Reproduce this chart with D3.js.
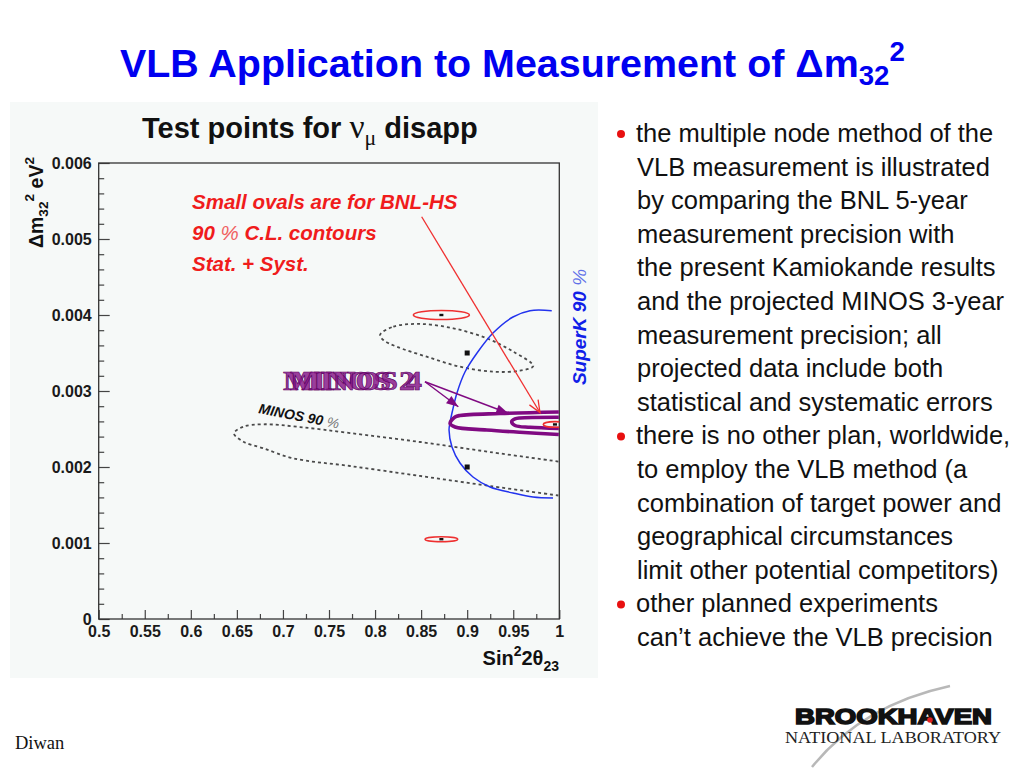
<!DOCTYPE html>
<html>
<head>
<meta charset="utf-8">
<script src="https://cdn.jsdelivr.net/npm/d3@7"></script>
<style>
body { margin: 0; background: #fff; }
svg { display: block; }
</style>
</head>
<body>
<div id="slide"></div>
<script>
// axis ticks
var xTickVals = [0.5, 0.55, 0.6, 0.65, 0.7, 0.75, 0.8, 0.85, 0.9, 0.95, 1];
var xTickLabels = ["0.5", "0.55", "0.6", "0.65", "0.7", "0.75", "0.8", "0.85", "0.9", "0.95", "1"];
var yTickVals = [0, 0.001, 0.002, 0.003, 0.004, 0.005, 0.006];
var yTickLabels = ["0", "0.001", "0.002", "0.003", "0.004", "0.005", "0.006"];

// test points (sin^2 2theta, dm^2)
var testPoints = [[0.9, 0.0035], [0.9, 0.002]];
var ovalCenters = [[0.872, 0.004], [0.872, 0.00105], [0.9953, 0.00256]];
var ovalHalfX = [0.0304, 0.0177, 0.0127];
var ovalHalfY = [0.00006, 0.000033, 0.000037];

// MINOS 90% contour round the (0.9, 0.0035) point
var minosSmall = [[0.8054, 0.003737], [0.8198, 0.003846], [0.8488, 0.003882], [0.8849, 0.003825],
  [0.9212, 0.003693], [0.9501, 0.003517], [0.9718, 0.003329], [0.9573, 0.003267], [0.9284, 0.003254],
  [0.8922, 0.00332], [0.8561, 0.003451], [0.8235, 0.003583], [0.8089, 0.003671]];
// MINOS 90% contour round the (0.9, 0.002) point, open at sin^2=1
var minosBig = [[0.999, 0.002072], [0.9248, 0.002197], [0.8488, 0.002329], [0.7728, 0.002447],
  [0.7185, 0.002526], [0.6787, 0.002562], [0.657, 0.00253], [0.6469, 0.002443], [0.657, 0.002333],
  [0.6787, 0.002246], [0.7112, 0.002114], [0.7728, 0.002013], [0.8488, 0.001882], [0.9248, 0.00175],
  [0.999, 0.001625]];
// SuperK 90%
var superK = [[0.9918, 0.004057], [0.9682, 0.004057], [0.9497, 0.003974], [0.928, 0.003763],
  [0.9107, 0.0035], [0.8976, 0.00325], [0.8889, 0.002974], [0.8835, 0.00271], [0.8813, 0.002579],
  [0.8803, 0.002487], [0.8835, 0.002263], [0.8922, 0.002053], [0.9063, 0.001868], [0.9248, 0.001737],
  [0.9497, 0.001658], [0.9714, 0.001605], [0.9932, 0.001592]];
// MINOS 2 and MINOS 4 contours
var minosOuter = [[0.9995, 0.002724], [0.9356, 0.002704], [0.8922, 0.002678], [0.8868, 0.002658],
  [0.8814, 0.002575], [0.8868, 0.002526], [0.9212, 0.002487], [0.9573, 0.002457], [0.9995, 0.002428]];
var minosInner = [[0.9995, 0.002654], [0.9573, 0.002645], [0.9519, 0.002632], [0.9483, 0.002596],
  [0.9519, 0.002546], [0.9682, 0.002522], [0.9995, 0.002507]];

// annotation arrows
var redArrow = [[0.8506, 0.005293], [0.979, 0.002717]];
var purpleFrom = [0.8542, 0.003122];
var purpleTo = [[0.8904, 0.002793], [0.9446, 0.002707]];

// slide text
var noteLines = ["the multiple node method of the", "VLB measurement is illustrated",
  "by comparing the BNL 5-year", "measurement precision with", "the present Kamiokande results",
  "and the projected MINOS 3-year", "measurement precision; all", "projected data include both",
  "statistical and systematic errors", "there is no other plan, worldwide,",
  "to employ the VLB method (a", "combination of target power and", "geographical circumstances",
  "limit other potential competitors)", "other planned experiments", "can\u2019t achieve the VLB precision"];
var bulletLines = [0, 9, 14];

var SANS = "'Liberation Sans', Arial, Helvetica, sans-serif";
var SERIF = "'Liberation Serif', 'Times New Roman', serif";

var svg = d3.select("#slide").append("svg")
  .attr("width", 1024)
  .attr("height", 768)
  .attr("font-family", SANS);

// scale a text's font size so it fills a given width
function fitWidth(t, w) {
  var cur = t.node().getComputedTextLength();
  var fs = parseFloat(t.attr("font-size"));
  t.attr("font-size", fs * w / cur);
}

// slide title
var title = svg.append("text")
  .attr("x", 120).attr("y", 77)
  .attr("font-size", 38).attr("font-weight", "bold")
  .attr("fill", "#0000f0");
title.append("tspan").text("VLB Application to Measurement of \u0394m");
title.append("tspan").attr("font-size", "70%").attr("dy", 8).text("32");
title.append("tspan").attr("font-size", "70%").attr("dy", -24).text("2");
fitWidth(title, 785);

// chart panel
svg.append("rect")
  .attr("x", 10).attr("y", 102)
  .attr("width", 588).attr("height", 576)
  .attr("fill", "#f6f9f8");

var x = d3.scaleLinear().domain([0.5, 1]).range([98.7, 559.3]);
var y = d3.scaleLinear().domain([0, 0.006]).range([619, 163]);

svg.append("clipPath").attr("id", "plotclip")
  .append("rect")
  .attr("x", x(0.5)).attr("y", y(0.006))
  .attr("width", x(1) - x(0.5)).attr("height", y(0) - y(0.006));

var xMinor = d3.range(0.525, 1, 0.05);
var yMinor = y.ticks(30).filter(d => Math.abs(d * 1000 - Math.round(d * 1000)) > 1e-6);

function styleAxis(g) {
  g.attr("font-family", SANS).attr("font-size", 16);
  g.select(".domain").remove();
  g.selectAll("line").attr("stroke", "#444").attr("stroke-width", 1.2);
  g.selectAll("text")
    .attr("font-weight", "bold")
    .attr("fill", "#1a1a1a");
}

svg.append("g").attr("transform", "translate(0,619)")
  .call(d3.axisBottom(x).tickValues(xTickVals).tickFormat((d, i) => xTickLabels[i]).tickSize(-9).tickPadding(7))
  .call(styleAxis);
svg.append("g").attr("transform", "translate(0,619)")
  .call(d3.axisBottom(x).tickValues(xMinor).tickFormat("").tickSize(-5))
  .call(styleAxis);
svg.append("g").attr("transform", "translate(98.7,0)")
  .call(d3.axisLeft(y).tickValues(yTickVals).tickFormat((d, i) => yTickLabels[i]).tickSize(-11).tickPadding(7))
  .call(styleAxis);
svg.append("g").attr("transform", "translate(98.7,0)")
  .call(d3.axisLeft(y).tickValues(yMinor).tickFormat("").tickSize(-5.5))
  .call(styleAxis);

svg.append("rect")
  .attr("x", x(0.5)).attr("y", y(0.006))
  .attr("width", x(1) - x(0.5)).attr("height", y(0) - y(0.006))
  .attr("fill", "none").attr("stroke", "#333").attr("stroke-width", 1.3);

// panel title
var ptitle = svg.append("text")
  .attr("x", 142).attr("y", 138)
  .attr("font-size", 26).attr("font-weight", "bold").attr("fill", "#111");
ptitle.append("tspan").text("Test points for ");
ptitle.append("tspan").attr("font-family", SERIF).attr("font-weight", "normal").attr("font-size", "115%").text("\u03bd");
ptitle.append("tspan").attr("font-family", SERIF).attr("font-weight", "normal")
  .attr("font-size", "75%").attr("dy", 7).text("\u03bc");
ptitle.append("tspan").attr("dy", -7).text(" disapp");
fitWidth(ptitle, 336);

// axis titles
var ytitle = svg.append("text")
  .attr("transform", "translate(43,157) rotate(-90)")
  .attr("text-anchor", "end")
  .attr("font-size", 19.5).attr("font-weight", "bold").attr("fill", "#111");
ytitle.append("tspan").text("\u0394m");
ytitle.append("tspan").attr("font-size", "70%").attr("dy", 5).text("32");
ytitle.append("tspan").attr("font-size", "70%").attr("dy", -14).text("2");
ytitle.append("tspan").attr("dy", 9).text(" eV");
ytitle.append("tspan").attr("font-size", "70%").attr("dy", -9).text("2");

var xtitle = svg.append("text")
  .attr("x", 559).attr("y", 665)
  .attr("text-anchor", "end")
  .attr("font-size", 20).attr("font-weight", "bold").attr("fill", "#111");
xtitle.append("tspan").text("Sin");
xtitle.append("tspan").attr("font-size", "70%").attr("dy", -9).text("2");
xtitle.append("tspan").attr("dy", 9).text("2\u03b8");
xtitle.append("tspan").attr("font-size", "70%").attr("dy", 6).text("23");

// contours
var plot = svg.append("g").attr("clip-path", "url(#plotclip)");
var line = d3.line().x(d => x(d[0])).y(d => y(d[1])).curve(d3.curveCatmullRom.alpha(0.5));
var closedLine = d3.line().x(d => x(d[0])).y(d => y(d[1])).curve(d3.curveCatmullRomClosed.alpha(0.5));

plot.append("path").attr("d", closedLine(minosSmall))
  .attr("fill", "none").attr("stroke", "#4a4a4a").attr("stroke-width", 1.8).attr("stroke-dasharray", "3,3");
plot.append("path").attr("d", line(minosBig))
  .attr("fill", "none").attr("stroke", "#4a4a4a").attr("stroke-width", 1.8).attr("stroke-dasharray", "3,3");
plot.append("path").attr("d", line(superK))
  .attr("fill", "none").attr("stroke", "#2233ee").attr("stroke-width", 1.5);
[minosOuter, minosInner].forEach(c => {
  plot.append("path").attr("d", line(c))
    .attr("fill", "none").attr("stroke", "#800a82").attr("stroke-width", 3.6)
    .attr("stroke-linejoin", "round");
});

// BNL-HS small ovals
plot.selectAll("ellipse.oval").data(ovalCenters).enter().append("ellipse")
  .attr("class", "oval")
  .attr("cx", d => x(d[0])).attr("cy", d => y(d[1]))
  .attr("rx", (d, i) => x(d[0] + ovalHalfX[i]) - x(d[0]))
  .attr("ry", (d, i) => y(d[1]) - y(d[1] + ovalHalfY[i]))
  .attr("fill", "none").attr("stroke", "#ee3030").attr("stroke-width", 1.6);
plot.selectAll("rect.dot").data(ovalCenters).enter().append("rect")
  .attr("class", "dot")
  .attr("x", d => x(d[0]) - 2).attr("y", d => y(d[1]) - 1.2)
  .attr("width", 4).attr("height", 2.4).attr("fill", "#111");
plot.selectAll("rect.pt").data(testPoints).enter().append("rect")
  .attr("class", "pt")
  .attr("x", d => x(d[0]) - 2.5).attr("y", d => y(d[1]) - 2.5)
  .attr("width", 5).attr("height", 5).attr("fill", "#111");

// red arrow with open head
var ra = redArrow.map(d => [x(d[0]), y(d[1])]);
svg.append("line")
  .attr("x1", ra[0][0]).attr("y1", ra[0][1]).attr("x2", ra[1][0]).attr("y2", ra[1][1])
  .attr("stroke", "#f03030").attr("stroke-width", 1.3);
var ang = Math.atan2(ra[1][1] - ra[0][1], ra[1][0] - ra[0][0]);
var head = [ang - 0.4, ang + 0.4].map(a => [ra[1][0] - 13 * Math.cos(a), ra[1][1] - 13 * Math.sin(a)]);
svg.append("path")
  .attr("d", "M" + head[0] + "L" + ra[1] + "L" + head[1])
  .attr("fill", "none").attr("stroke", "#f03030").attr("stroke-width", 1.3);

// purple arrows with filled heads
var pf = [x(purpleFrom[0]), y(purpleFrom[1])];
purpleTo.forEach(d => {
  var t = [x(d[0]), y(d[1])];
  var a = Math.atan2(t[1] - pf[1], t[0] - pf[0]);
  svg.append("line")
    .attr("x1", pf[0]).attr("y1", pf[1]).attr("x2", t[0]).attr("y2", t[1])
    .attr("stroke", "#800a82").attr("stroke-width", 1.4);
  var b = [t[0] - 12 * Math.cos(a), t[1] - 12 * Math.sin(a)];
  var p1 = [b[0] + 4.5 * Math.sin(a), b[1] - 4.5 * Math.cos(a)];
  var p2 = [b[0] - 4.5 * Math.sin(a), b[1] + 4.5 * Math.cos(a)];
  svg.append("path").attr("d", "M" + t + "L" + p1 + "L" + p2 + "Z").attr("fill", "#800a82");
});

// red note
var redNote = ["Small ovals are for BNL-HS", "90 % C.L. contours", "Stat. + Syst."];
redNote.forEach((s, i) => {
  var t = svg.append("text")
    .attr("x", 192).attr("y", 209 + i * 31)
    .attr("font-size", 20.5).attr("font-weight", "bold").attr("font-style", "italic")
    .attr("fill", "#f01c1c");
  if (i === 1) {
    t.append("tspan").text("90 ");
    t.append("tspan").attr("font-weight", "normal").attr("fill", "#f06060").text("%");
    t.append("tspan").text(" C.L. contours");
  } else {
    t.text(s);
  }
});

// MINOS 2 / MINOS 4 labels drawn on top of each other
[["MINOS 2", 283], ["MINOS 4", 290]].forEach(d => {
  svg.append("text")
    .attr("x", d[1]).attr("y", 390)
    .attr("font-family", SERIF)
    .attr("font-size", 27).attr("font-weight", "bold")
    .attr("textLength", 132).attr("lengthAdjust", "spacingAndGlyphs")
    .attr("fill", "#8a1c8c").attr("fill-opacity", 0.85)
    .attr("stroke", "#5a0060").attr("stroke-width", 0.6)
    .text(d[0]);
});

// MINOS 90 % label
var m90 = svg.append("text")
  .attr("transform", "translate(258,413) rotate(11)")
  .attr("font-size", 14).attr("font-weight", "bold").attr("font-style", "italic").attr("fill", "#111");
m90.append("tspan").text("MINOS 90 ");
m90.append("tspan").attr("font-weight", "normal").attr("fill", "#777").text("%");

// SuperK label
var sk = svg.append("text")
  .attr("transform", "translate(586,327) rotate(-90)")
  .attr("text-anchor", "middle")
  .attr("font-size", 19).attr("font-weight", "bold").attr("font-style", "italic").attr("fill", "#1020e8");
sk.append("tspan").text("SuperK 90 ");
sk.append("tspan").attr("font-weight", "normal").attr("fill", "#6070e8").text("%");

// right hand notes
noteLines.forEach((s, i) => {
  var by = 142 + i * 33.6;
  var isBullet = bulletLines.indexOf(i) >= 0;
  if (isBullet) {
    svg.append("circle").attr("cx", 621).attr("cy", by - 8).attr("r", 4).attr("fill", "#e81010");
  }
  svg.append("text")
    .attr("x", isBullet ? 636 : 637).attr("y", by)
    .attr("font-size", 25.5).attr("fill", "#111")
    .text(s);
});

// footer
svg.append("text")
  .attr("x", 15).attr("y", 749)
  .attr("font-family", SERIF)
  .attr("font-size", 18.5).attr("fill", "#111")
  .text("Diwan");

// lab logo
svg.append("path")
  .attr("d", "M812,767 Q862,705 950,686")
  .attr("fill", "none").attr("stroke", "#b8b8b8").attr("stroke-width", 2.5);
svg.append("text")
  .attr("x", 795).attr("y", 724)
  .attr("font-size", 22.5).attr("font-weight", "bold")
  .attr("textLength", 197).attr("lengthAdjust", "spacingAndGlyphs")
  .attr("fill", "#111").attr("stroke", "#111").attr("stroke-width", 1.6)
  .text("BROOKHAVEN");
svg.append("circle").attr("cx", 930).attr("cy", 720).attr("r", 2.8).attr("fill", "#e02020");
svg.append("text")
  .attr("x", 785).attr("y", 743)
  .attr("font-family", SERIF)
  .attr("font-size", 16).attr("fill", "#222")
  .attr("textLength", 216).attr("lengthAdjust", "spacingAndGlyphs")
  .text("NATIONAL LABORATORY");
</script>
</body>
</html>
